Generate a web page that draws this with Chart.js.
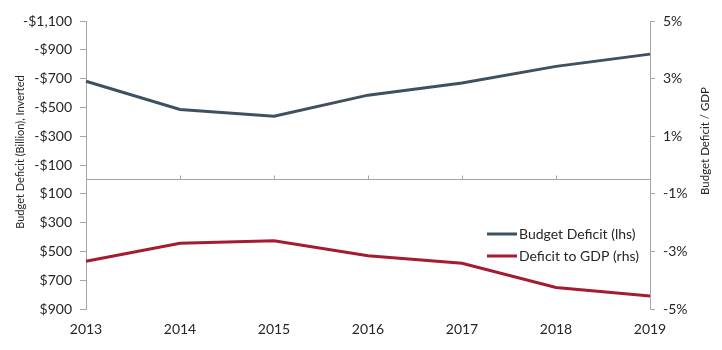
<!DOCTYPE html>
<html>
<head>
<meta charset="utf-8">
<script src="https://cdn.jsdelivr.net/npm/chart.js@4.4.0/dist/chart.umd.min.js"></script>
<style>
  html, body { margin: 0; padding: 0; background: #fff; }
  #wrap { width: 722px; height: 350px; }
</style>
</head>
<body>
<div id="wrap"><canvas id="chart" width="722" height="350"></canvas></div>
<script>
// data
const years = ['2013', '2014', '2015', '2016', '2017', '2018', '2019'];
const budgetDeficit = [-682, -486, -439, -585, -670, -785, -870];   // $ billion (lhs, inverted)
const deficitToGdp = [-3.34, -2.72, -2.63, -3.15, -3.41, -4.25, -4.55]; // % (rhs)

const seriesNames = ['Budget Deficit (lhs)', 'Deficit to GDP (rhs)'];
const leftTitle = 'Budget Deficit (Billion), Inverted';
const rightTitle = 'Budget Deficit / GDP';

const FONT = 'Lato, "Open Sans", sans-serif';
const TXT = '#262626';
const AXIS = '#a6a6a6';

// money format for left ticks
function money(v) {
  const s = '$' + Math.abs(v).toLocaleString('en-US');
  return v < 0 ? '-' + s : s;
}

// zero line, axis titles and legend drawn in the plot
const extras = {
  id: 'extras',
  beforeDatasetsDraw(chart) {
    const { ctx, chartArea: a, scales } = chart;
    const y0 = Math.round(scales.y.getPixelForValue(0)) + 0.5;
    ctx.save();
    ctx.strokeStyle = AXIS;
    ctx.lineWidth = 1;
    ctx.beginPath();
    ctx.moveTo(a.left, y0);
    ctx.lineTo(a.right, y0);
    for (let i = 1; i < years.length; i++) {
      const x = Math.round(scales.x.getPixelForValue(i)) + 0.5;
      ctx.moveTo(x, y0);
      ctx.lineTo(x, y0 - 4);
    }
    ctx.stroke();
    ctx.restore();
  },
  afterDraw(chart) {
    const { ctx, chartArea: a } = chart;
    const mid = (a.top + a.bottom) / 2;

    ctx.save();
    ctx.fillStyle = TXT;
    ctx.font = '11px ' + FONT;
    ctx.textAlign = 'center';
    ctx.textBaseline = 'middle';
    ctx.translate(20, mid - 13);
    ctx.rotate(-Math.PI / 2);
    ctx.fillText(leftTitle, 0, 0);
    ctx.restore();

    ctx.save();
    ctx.fillStyle = TXT;
    ctx.font = '11.5px ' + FONT;
    ctx.textAlign = 'center';
    ctx.textBaseline = 'middle';
    ctx.translate(a.right + 55, mid - 24);
    ctx.rotate(-Math.PI / 2);
    ctx.fillText(rightTitle, 0, 0);
    ctx.restore();

    // legend
    ctx.save();
    ctx.font = '14px ' + FONT;
    ctx.textBaseline = 'middle';
    chart.data.datasets.forEach((ds, i) => {
      const x0 = a.right - 163;
      const y = a.top + 213 + i * 22;
      ctx.strokeStyle = ds.borderColor;
      ctx.lineWidth = 3;
      ctx.beginPath();
      ctx.moveTo(x0, y);
      ctx.lineTo(x0 + 30, y);
      ctx.stroke();
      ctx.fillStyle = TXT;
      ctx.fillText(ds.label, x0 + 32, y);
    });
    ctx.restore();
  }
};

new Chart(document.getElementById('chart'), {
  type: 'line',
  data: {
    labels: years,
    datasets: [
      { label: seriesNames[0], data: budgetDeficit, yAxisID: 'y', borderColor: '#3e5161', borderWidth: 3, pointRadius: 0, tension: 0 },
      { label: seriesNames[1], data: deficitToGdp, yAxisID: 'y1', borderColor: '#a51c30', borderWidth: 3, pointRadius: 0, tension: 0 }
    ]
  },
  options: {
    responsive: false,
    animation: false,
    layout: { padding: { top: 21, left: 0, right: 0, bottom: 0 } },
    plugins: { legend: { display: false }, tooltip: { enabled: false } },
    scales: {
      x: {
        offset: false,
        grid: { display: false, drawTicks: false },
        border: { display: false },
        ticks: { color: TXT, font: { family: FONT, size: 14 }, padding: 12, maxRotation: 0 },
        afterFit: s => { s.height = 41; }
      },
      y: {
        position: 'left',
        reverse: true,
        min: -1100, max: 900,
        grid: { drawOnChartArea: false, color: AXIS, tickLength: 6 },
        border: { color: AXIS },
        ticks: { stepSize: 200, color: TXT, font: { family: FONT, size: 14 }, padding: 8, callback: v => money(v) },
        afterFit: s => { s.width = 86; }
      },
      y1: {
        position: 'right',
        min: -5, max: 5,
        grid: { drawOnChartArea: false, color: AXIS, tickLength: 5 },
        border: { color: AXIS },
        ticks: { stepSize: 2, color: TXT, font: { family: FONT, size: 14 }, padding: 8, callback: v => v + '%' },
        afterFit: s => { s.width = 72; }
      }
    }
  },
  plugins: [extras]
});
</script>
</body>
</html>
